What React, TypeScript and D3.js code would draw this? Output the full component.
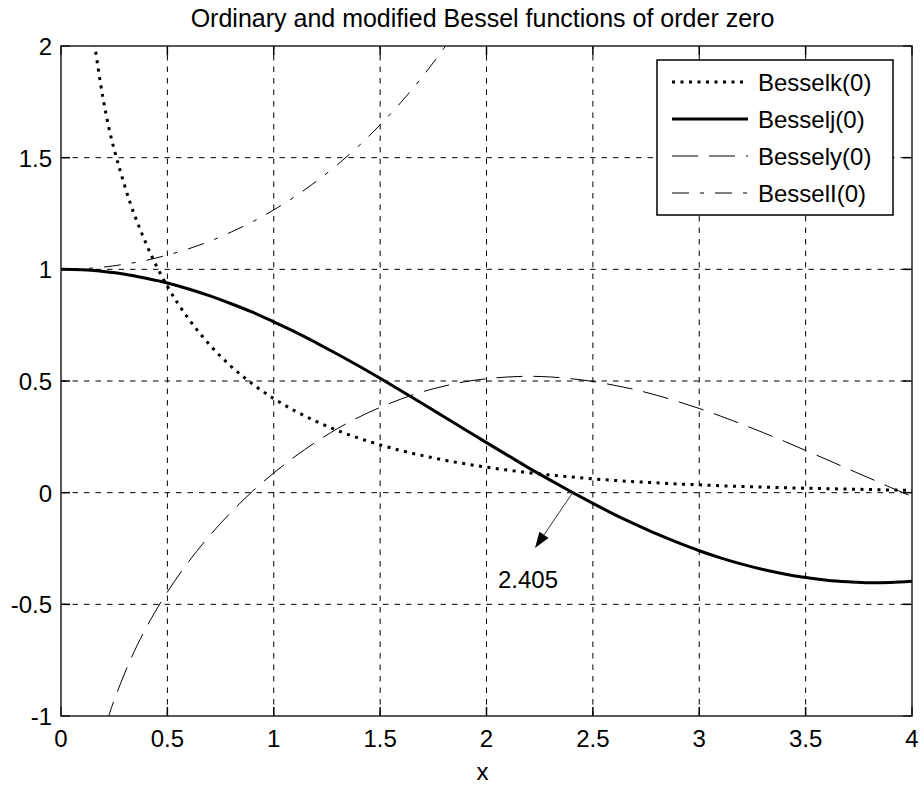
import * as d3 from "d3";

const width = 923;
const height = 787;
const margin = { top: 46, right: 11, bottom: 71, left: 61 };

const title = "Ordinary and modified Bessel functions of order zero";
const xLabel = "x";

const xTicks = [0, 0.5, 1, 1.5, 2, 2.5, 3, 3.5, 4];
const yTicks = [-1, -0.5, 0, 0.5, 1, 1.5, 2];

// sample points along x
const xs = [
  0, 0.1, 0.2, 0.3, 0.4, 0.5, 0.6, 0.7, 0.8, 0.9, 1.0, 1.1, 1.2, 1.3, 1.4,
  1.5, 1.6, 1.7, 1.8, 1.9, 2.0, 2.1, 2.2, 2.3, 2.4, 2.5, 2.6, 2.7, 2.8, 2.9,
  3.0, 3.1, 3.2, 3.3, 3.4, 3.5, 3.6, 3.7, 3.8, 3.9, 4.0,
];

const besselK = [
  null, 2.427, 1.753, 1.372, 1.115, 0.924, 0.778, 0.661, 0.565, 0.487, 0.421,
  0.366, 0.319, 0.278, 0.244, 0.214, 0.188, 0.166, 0.146, 0.129, 0.114, 0.101,
  0.089, 0.079, 0.070, 0.062, 0.055, 0.049, 0.044, 0.039, 0.035, 0.031, 0.028,
  0.025, 0.022, 0.020, 0.018, 0.016, 0.014, 0.012, 0.011,
];

const besselJ = [
  1.0, 0.998, 0.99, 0.978, 0.96, 0.939, 0.912, 0.881, 0.846, 0.808, 0.765,
  0.72, 0.671, 0.62, 0.567, 0.512, 0.455, 0.398, 0.34, 0.282, 0.224, 0.167,
  0.11, 0.056, 0.003, -0.048, -0.097, -0.142, -0.185, -0.224, -0.26, -0.292,
  -0.32, -0.344, -0.364, -0.38, -0.392, -0.399, -0.403, -0.402, -0.397,
];

const besselY = [
  null, -1.534, -1.081, -0.807, -0.606, -0.445, -0.309, -0.191, -0.087, 0.006,
  0.088, 0.162, 0.228, 0.287, 0.338, 0.382, 0.42, 0.452, 0.477, 0.497, 0.51,
  0.518, 0.521, 0.518, 0.51, 0.498, 0.481, 0.461, 0.436, 0.408, 0.377, 0.343,
  0.307, 0.269, 0.23, 0.189, 0.148, 0.106, 0.065, 0.023, -0.017,
];

const besselI = [
  1.0, 1.003, 1.01, 1.023, 1.04, 1.064, 1.092, 1.126, 1.167, 1.213, 1.266,
  1.326, 1.394, 1.469, 1.553, 1.647, 1.75, 1.864, 1.99, 2.128, 2.28,
];

const series = [
  { name: "Besselk(0)", values: besselK, width: 3, dash: "3,5.5" },
  { name: "Besselj(0)", values: besselJ, width: 3, dash: null },
  { name: "Bessely(0)", values: besselY, width: 1, dash: "26,11" },
  { name: "BesselI(0)", values: besselI, width: 1, dash: "17,11,4,11" },
];

const rootX = 2.405;
const arrowTip = [2.228, -0.248];
const annotation = { text: "2.405", x: 2.054, y: -0.427 };

const font = "'Liberation Sans', Arial, sans-serif";

export default function App() {
  const x = d3
    .scaleLinear()
    .domain([0, 4])
    .range([margin.left, width - margin.right]);
  const y = d3
    .scaleLinear()
    .domain([-1, 2])
    .range([height - margin.bottom, margin.top]);

  const x0 = x(0);
  const x1 = x(4);
  const y0 = y(-1);
  const y1 = y(2);
  const tick = 9;

  const makeLine = (vals: (number | null)[]) =>
    d3
      .line<number>()
      .defined((i) => vals[i] != null)
      .x((i) => x(xs[i]))
      .y((i) => y(vals[i] as number))
      .curve(d3.curveMonotoneX)(vals.map((_, i) => i));

  // arrow
  const ax0 = x(rootX);
  const ay0 = y(0);
  const ax1 = x(arrowTip[0]);
  const ay1 = y(arrowTip[1]);
  const ang = Math.atan2(ay1 - ay0, ax1 - ax0);
  const hl = 16;
  const hw = 5.5;
  const bx = ax1 - hl * Math.cos(ang);
  const by = ay1 - hl * Math.sin(ang);
  const head = [
    [ax1, ay1],
    [bx + hw * Math.sin(ang), by - hw * Math.cos(ang)],
    [bx - hw * Math.sin(ang), by + hw * Math.cos(ang)],
  ]
    .map((p) => p.join(","))
    .join(" ");

  const legendX = 657;
  const legendY = 60;
  const legendW = 236;
  const legendH = 155;
  const rowH = 37;

  return (
    <svg
      width={width}
      height={height}
      style={{ position: "absolute", left: 0, top: 0, background: "#fff" }}
      fontFamily={font}
    >
      <defs>
        <clipPath id="plot">
          <rect x={x0} y={y1} width={x1 - x0} height={y0 - y1} />
        </clipPath>
      </defs>
      <rect width={width} height={height} fill="#fff" />

      {/* grid */}
      <g stroke="#000" strokeWidth={1} strokeDasharray="5.5,6">
        {xTicks.slice(1, -1).map((t) => (
          <line key={"gx" + t} x1={x(t)} x2={x(t)} y1={y0} y2={y1} />
        ))}
        {yTicks.slice(1, -1).map((t) => (
          <line key={"gy" + t} x1={x0} x2={x1} y1={y(t)} y2={y(t)} />
        ))}
      </g>

      {/* ticks on all four sides */}
      <g stroke="#000" strokeWidth={1.5}>
        {xTicks.map((t) => (
          <g key={"tx" + t}>
            <line x1={x(t)} x2={x(t)} y1={y0} y2={y0 - tick} />
            <line x1={x(t)} x2={x(t)} y1={y1} y2={y1 + tick} />
          </g>
        ))}
        {yTicks.map((t) => (
          <g key={"ty" + t}>
            <line x1={x0} x2={x0 + tick} y1={y(t)} y2={y(t)} />
            <line x1={x1} x2={x1 - tick} y1={y(t)} y2={y(t)} />
          </g>
        ))}
      </g>

      {/* curves */}
      <g clipPath="url(#plot)" fill="none" stroke="#000">
        {series.map((s) => (
          <path
            key={s.name}
            d={makeLine(s.values) || ""}
            strokeWidth={s.width}
            strokeDasharray={s.dash || undefined}
          />
        ))}
      </g>

      {/* annotation arrow */}
      <line x1={ax0} y1={ay0} x2={bx} y2={by} stroke="#333" strokeWidth={1} />
      <polygon points={head} fill="#000" />
      <text x={x(annotation.x)} y={y(annotation.y)} fontSize={24}>
        {annotation.text}
      </text>

      {/* frame */}
      <rect
        x={x0}
        y={y1}
        width={x1 - x0}
        height={y0 - y1}
        fill="none"
        stroke="#222"
        strokeWidth={1.5}
      />

      {/* tick labels */}
      <g fontSize={24} fill="#000">
        {xTicks.map((t) => (
          <text key={"lx" + t} x={x(t)} y={y0 + 31} textAnchor="middle">
            {String(t)}
          </text>
        ))}
        {yTicks.map((t) => (
          <text key={"ly" + t} x={x0 - 9} y={y(t) + 9} textAnchor="end">
            {String(t)}
          </text>
        ))}
      </g>

      <text x={(x0 + x1) / 2 - 4} y={780} fontSize={24} textAnchor="middle">
        {xLabel}
      </text>
      <text x={(x0 + x1) / 2 - 4} y={27} fontSize={25} textAnchor="middle">
        {title}
      </text>

      {/* legend */}
      <g>
        <rect
          x={legendX}
          y={legendY}
          width={legendW}
          height={legendH}
          fill="#fff"
          stroke="#000"
          strokeWidth={1.5}
        />
        {series.map((s, i) => {
          const cy = legendY + 22 + i * rowH;
          return (
            <g key={"lg" + s.name}>
              <line
                x1={legendX + 15}
                x2={legendX + 91}
                y1={cy}
                y2={cy}
                stroke="#000"
                strokeWidth={s.width}
                strokeDasharray={s.dash || undefined}
              />
              <text x={legendX + 101} y={cy + 9} fontSize={24}>
                {s.name}
              </text>
            </g>
          );
        })}
      </g>
    </svg>
  );
}
